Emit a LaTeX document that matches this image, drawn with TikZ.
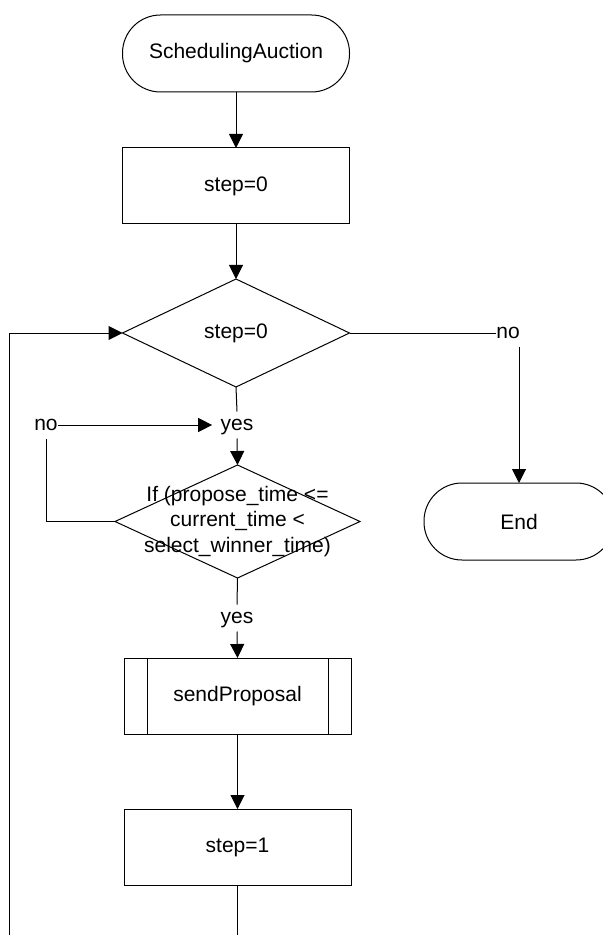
\documentclass[tikz,border=0pt]{standalone}
\usepackage{fontspec}
\setmainfont{Liberation Sans}
\usetikzlibrary{arrows.meta,shapes.geometric}

\begin{document}
\begin{tikzpicture}%
        [x=0.5pt, y=-0.5pt,
        line width=0.5pt,
        every node/.style={font=\fontsize{10.5}{12.75}\selectfont},
        term/.style={draw, rectangle, rounded corners=19pt, minimum width=113.5pt, minimum height=38.5pt, outer sep=0pt},
        proc/.style={draw, rectangle, minimum width=113.5pt, minimum height=38pt, outer sep=0pt},
        decide/.style={draw, diamond, inner sep=0pt, outer sep=0pt},
        answer/.style={inner xsep=0pt, inner ysep=1.75pt, text height=7.5pt, text depth=2pt},
        flow/.style={-{Triangle[length=7pt,width=7pt]}}]
    %
    %% page size of the chart, the End box runs off the right edge
    \useasboundingbox (0,0) rectangle (603,935);
    \clip (0,0) rectangle (603,935);

    %% Drawing the boxes
    \node[term] (start) at (236,53.5) {SchedulingAuction};
    \node[proc] (p0) at (236,186) {step=0};
    \node[decide, minimum width=113.5pt, minimum height=54pt] (d1) at (236,333) {};
    \node at (d1) {step=0};
    \node[answer] (no1) at (508,333) {no};
    \node[term, minimum width=95pt] (endn) at (519,521.5) {End};
    \node[answer] (yes1) at (237,425) {yes};
    \node[answer] (no2) at (46,425) {no};
    \node[decide, minimum width=122.5pt, minimum height=56.5pt,
          label={[align=center]center:If (propose\_time <=\\current\_time <\\select\_winner\_time)}] (d2) at (237.5,521.5) {};
    \node[answer] (yes2) at (237,618) {yes};
    \node[proc] (sp) at (237.5,696) {sendProposal};
    \draw ([xshift=11.5pt]sp.north west) -- ([xshift=11.5pt]sp.south west);
    \draw ([xshift=-11.5pt]sp.north east) -- ([xshift=-11.5pt]sp.south east);
    \node[proc] (s1) at (237.5,847) {step=1};

    %% Drawing the connectors
    \draw[flow] (start.south) -- (p0.north);
    \draw[flow] (p0.south) -- (d1.north);
    \draw (d1.east) -- (no1.west);
    \draw[flow] (endn.north |- no1.south) -- (endn.north);
    \draw (d1.south) -- (yes1.north);
    \draw[flow, shorten >=4pt] (no2.east) -- (yes1.west);
    \draw[flow] (yes1.south) -- (d2.north);
    \draw (d2.west) -| (no2.south);
    \draw (d2.south) -- (yes2.north);
    \draw[flow] (yes2.south) -- (sp.north);
    \draw[flow] (sp.south) -- (s1.north);
    %% loop back, leaves the page at the bottom
    \coordinate (back) at (9,980);
    \draw[flow] (s1.south) |- (back) |- (d1.west);
\end{tikzpicture}
\end{document}
